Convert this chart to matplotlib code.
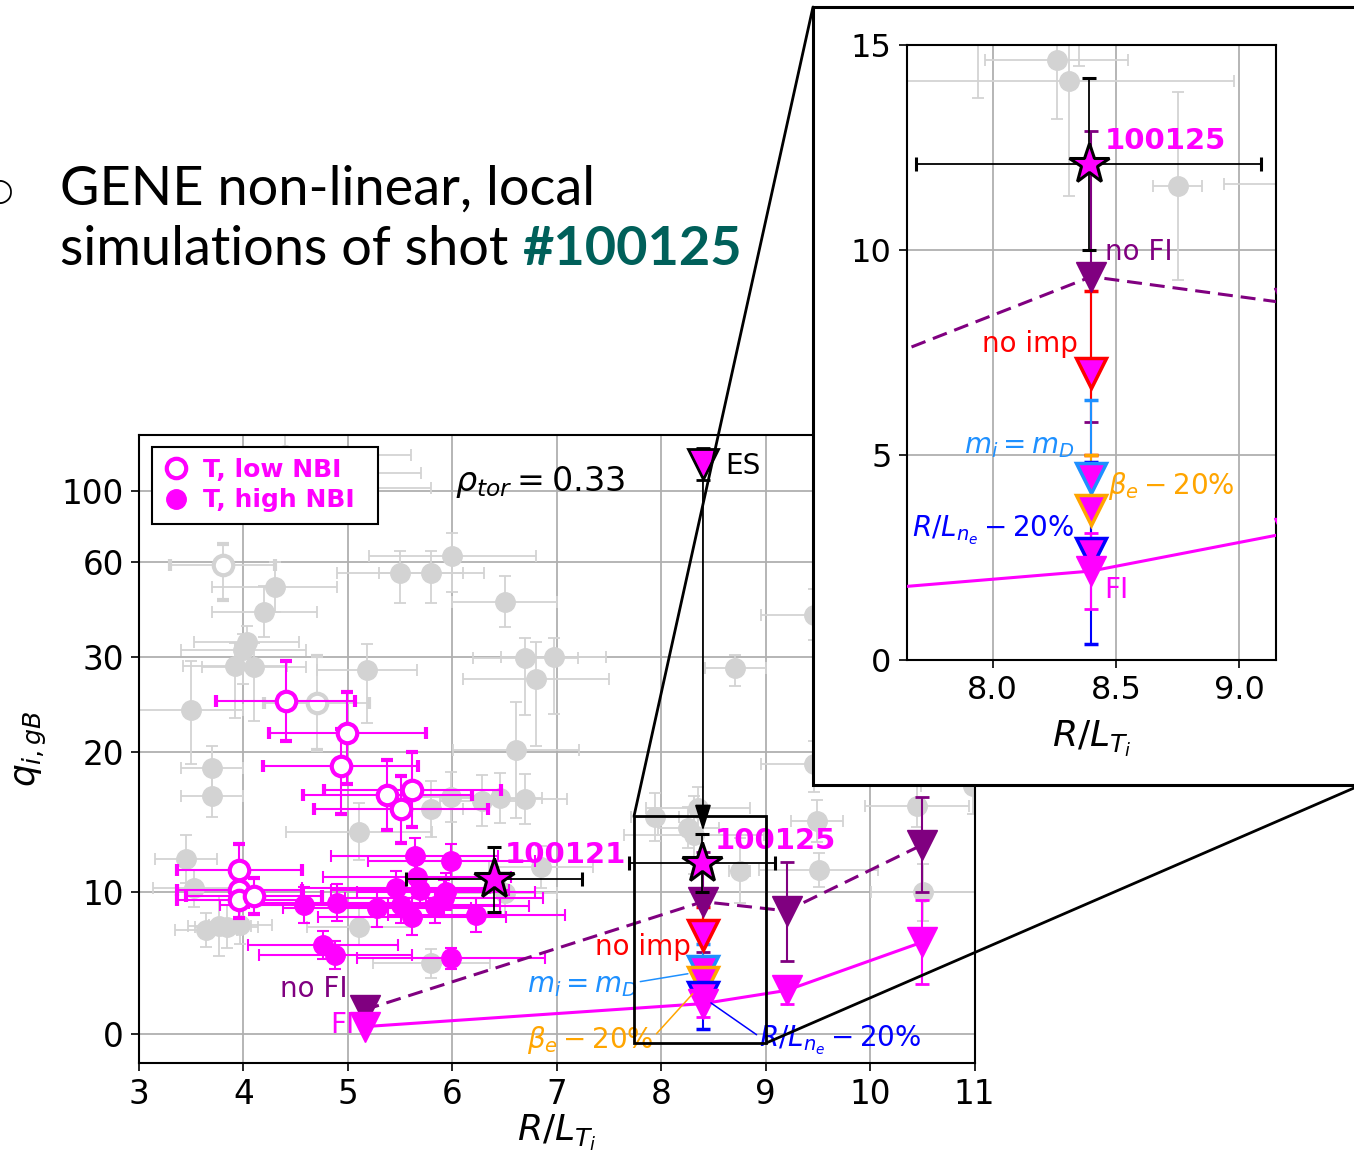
import numpy as np
import matplotlib
matplotlib.use("Agg")
import matplotlib.pyplot as plt
from matplotlib.lines import Line2D
from matplotlib.patches import Rectangle, ConnectionPatch

# ---------------------------------------------------------------
# Database of other discharges (grey)
grey_x = [4.30, 4.20, 5.50, 5.80, 6.00, 6.50, 4.03, 3.92, 4.10, 4.00, 3.50, 5.18,
          6.70, 6.97, 6.80, 6.61, 3.70, 3.70, 5.99, 6.28, 6.46, 6.70, 5.80, 5.11,
          8.71, 9.46, 9.46, 7.94, 8.26, 8.31, 8.35, 8.75, 9.49, 9.51, 10.45, 10.51,
          10.99, 3.45, 3.53, 3.64, 3.77, 3.84, 3.97, 5.11, 5.80, 6.50, 6.85,
          4.40, 4.60, 4.90]
grey_q = [52.2, 44.3, 56.6, 56.6, 63.4, 47.5, 34.8, 29.0, 28.9, 32.2, 24.4, 28.6,
          29.9, 30.0, 27.7, 20.3, 18.9, 16.9, 16.8, 16.56, 16.75, 16.68, 15.93, 14.35,
          28.8, 43.3, 19.2, 15.4, 14.63, 14.12, 16.0, 11.56, 15.1, 11.6, 16.16, 10.0,
          17.6, 12.4, 10.3, 7.36, 7.64, 7.6, 7.7, 7.6, 5.0, 9.94, 11.8,
          120, 110, 101.7]
grey_xerr = [0.6, 0.5, 0.6, 0.5, 0.8, 0.5, 0.5, 0.5, 0.5, 0.6, 0.5, 0.48,
             0.5, 0.5, 0.7, 0.6, 0.3, 0.3, 0.4, 0.4, 0.4, 0.4, 0.3, 0.7,
             0.29, 0.5, 0.5, 0.23, 0.29, 0.67, 0.5, 0.1, 0.25, 0.57, 0.5, 0.5,
             0.5, 0.3, 0.4, 0.3, 0.3, 0.3, 0.3, 0.5, 0.56, 0.5, 0.5,
             1.2, 1.1, 0.9]
grey_qerr = [8, 8, 9.5, 9.5, 12.8, 8, 5, 5.4, 5.6, 5, 5.2, 5.5,
             6, 6, 7, 5, 1.8, 1.5, 1.8, 1.8, 1.8, 1.8, 2, 2,
             1.8, 8, 2, 1.7, 1.44, 2.8, 1.5, 2.3, 1.5, 1.2, 1.5, 2,
             2, 1.7, 1.3, 1.2, 2.1, 1.5, 1.3, 1.3, 1.0, 1.5, 1.5,
             20, 15, 10]
grey_open_x = [3.80, 4.70]
grey_open_q = [59.0, 25.2]
grey_open_xerr = [0.5, 0.5]
grey_open_qerr = [11.0, 5.0]

# T discharges, low NBI power (open) and high NBI power (filled)
low_x = [4.405, 4.995, 4.93, 5.378, 5.618, 5.51, 3.96, 3.96, 3.96, 4.10]
low_q = [25.4, 22.06, 19.03, 16.99, 17.34, 15.93, 11.63, 10.18, 9.47, 9.75]
low_xerr = [0.665, 0.75, 0.74, 0.81, 0.85, 0.83, 0.6, 0.6, 0.6, 0.65]
low_qerr = [4.2, 4.3, 3.4, 2.5, 2.7, 2.4, 1.8, 1.3, 1.3, 1.3]

high_x = [4.58, 4.90, 5.28, 5.46, 5.64, 5.66, 5.69, 5.51, 5.61, 5.83, 5.94, 5.99,
          5.92, 6.23, 4.76, 4.88, 5.99]
high_q = [9.12, 9.28, 8.89, 10.3, 12.57, 11.1, 10.18, 9.12, 8.3, 9.05, 10.06, 12.24,
          9.59, 8.42, 6.30, 5.60, 5.37]
high_xerr = [0.8, 0.85, 0.9, 0.9, 0.8, 0.9, 0.85, 0.95, 0.9, 0.9, 0.85, 0.8,
             0.95, 0.85, 0.72, 0.73, 0.9]
high_qerr = [1.3, 1.3, 1.3, 1.2, 1.3, 1.4, 1.2, 1.3, 1.3, 1.2, 1.3, 1.2,
             1.3, 1.2, 1.0, 1.0, 0.75]

# Experimental reference shots (stars)
star_names = ['100121', '100125']
star_x = [6.40, 8.39]
star_q = [10.93, 12.1]
star_xerr = [0.84, 0.70]
star_qerr = [2.3, 2.1]

# GENE gradient scan, with and without fast ions
sim_x = [5.16, 8.4, 9.2, 10.5]
fi_q = [0.55, 2.17, 3.1, 6.5]
fi_err = [0.0, 0.92, 0.95, 2.95]
nofi_q = [1.73, 9.35, 8.7, 13.4]
nofi_err = [0.0, 3.55, 3.5, 3.4]

# Sensitivity runs at the nominal gradient of #100125
sens_x = 8.4
sens_q = [7.0, 4.45, 3.66, 2.61]
sens_err = [2.0, 1.9, 1.34, 2.22]
sens_colors = ['red', 'dodgerblue', 'orange', 'blue']
sens_labels = ['no imp', r'$m_i = m_D$', r'$\beta_e - 20\%$', r'$R/L_{n_e} - 20\%$']

# Electrostatic run
es_q = 115.0
es_err = 9.0

# ---------------------------------------------------------------
MAGENTA = '#ff00ff'
PURPLE = '#800080'
GREY = '#d3d3d3'
TEAL = '#00605a'

W, H = 1354, 1160
fig = plt.figure(figsize=(W / 100, H / 100), dpi=100)


def fx(px):
    return px / W


def fy(py):
    return 1 - py / H


# flux axis: linear up to 20, compressed above
q_knots = np.array([-1000.0, 0, 10, 20, 30, 60, 100, 2000])
s_knots = np.array([-1000.0, 0, 10, 19.86, 26.58, 33.27, 38.27, 38.27 + 1900 * 0.125])


def q_fwd(v):
    return np.interp(np.asarray(v, float), q_knots, s_knots)


def q_inv(s):
    return np.interp(np.asarray(s, float), s_knots, q_knots)


def draw_data(a):
    a.errorbar(grey_x, grey_q, xerr=grey_xerr, yerr=grey_qerr, fmt='o', ms=14,
               color=GREY, ecolor=GREY, elinewidth=1.3, capsize=4.5, capthick=1.3,
               zorder=2)
    a.errorbar(grey_open_x, grey_open_q, xerr=grey_open_xerr, yerr=grey_open_qerr,
               fmt='o', ms=14, mfc='white', mec=GREY, mew=3, ecolor=GREY,
               elinewidth=1.3, capsize=4.5, capthick=1.3, zorder=2)
    a.errorbar(low_x, low_q, xerr=low_xerr, yerr=low_qerr, fmt='o', ms=14,
               mfc='white', mec=MAGENTA, mew=3, ecolor=MAGENTA, elinewidth=1.5,
               capsize=4.5, capthick=1.5, zorder=3)
    a.errorbar(high_x, high_q, xerr=high_xerr, yerr=high_qerr, fmt='o', ms=14,
               color=MAGENTA, ecolor=MAGENTA, elinewidth=1.5, capsize=4.5,
               capthick=1.5, zorder=3)

    a.plot(sim_x, nofi_q, color=PURPLE, lw=2.2, dashes=(4.9, 2.6), zorder=4)
    a.plot(sim_x, fi_q, color=MAGENTA, lw=2.2, zorder=4)
    a.errorbar(sim_x, nofi_q, yerr=nofi_err, fmt='v', ms=21, color=PURPLE,
               ecolor=PURPLE, elinewidth=1.5, capsize=5, capthick=2, zorder=5)
    for q, e, c in zip(sens_q, sens_err, sens_colors):
        a.errorbar([sens_x], [q], yerr=[e], fmt='v', ms=21, mfc=MAGENTA, mec=c,
                   mew=2.5, ecolor=c, elinewidth=1.5, capsize=5, capthick=2,
                   zorder=5)
    a.errorbar(sim_x, fi_q, yerr=fi_err, fmt='v', ms=21, color=MAGENTA,
               ecolor=MAGENTA, elinewidth=1.5, capsize=5, capthick=2, zorder=5)
    a.errorbar([sens_x], [es_q], yerr=[es_err], fmt='v', ms=21, mfc=MAGENTA,
               mec='k', mew=2, ecolor='k', elinewidth=1.5, capsize=5, capthick=2,
               zorder=5)
    a.errorbar(star_x, star_q, xerr=star_xerr, yerr=star_qerr, fmt='*', ms=30,
               mfc=MAGENTA, mec='k', mew=2.2, ecolor='k', elinewidth=1.3,
               capsize=5, capthick=1.5, zorder=7)


# ---------------- main panel ----------------
ax = fig.add_axes([fx(139), fy(1062.7), (974.5 - 139) / W, (1062.7 - 435) / H])
ax.set_yscale('function', functions=(q_fwd, q_inv))
draw_data(ax)
ax.set_xlim(3, 11)
ax.set_ylim(-1.99, 131.5)
ax.set_xticks(range(3, 12))
ax.set_yticks([0, 10, 20, 30, 60, 100])
ax.set_yticklabels(['0', '10', '20', '30', '60', '100'])
ax.minorticks_off()
ax.grid(True, color='#b0b0b0', lw=1.3)
ax.set_axisbelow(True)
ax.tick_params(labelsize=23.5, length=6, width=1.2, pad=5)
for s in ax.spines.values():
    s.set_linewidth(1.5)
ax.set_xlabel(r'$R/L_{T_i}$', fontsize=26)
ax.xaxis.set_label_coords(0.5, -0.08)
ax.set_ylabel(r'$q_{i,gB}$', fontsize=26)
ax.yaxis.set_label_coords(-0.108, 0.5)

ax.text(0.378, 0.925, r'$\rho_{tor} = 0.33$', transform=ax.transAxes,
        fontsize=24, va='center', ha='left')
ax.text(0.7014, 0.9506, 'ES', transform=ax.transAxes, fontsize=20,
        va='center', ha='left')
ax.annotate('', xy=(sens_x, 14.4), xytext=(sens_x, es_q - es_err),
            arrowprops=dict(arrowstyle='-|>,head_length=0.8,head_width=0.25',
                            color='k', lw=1.3, shrinkA=0, shrinkB=0,
                            mutation_scale=20), zorder=6)
ax.text(6.506, 12.64, star_names[0], color=MAGENTA, fontsize=21,
        fontweight='bold', va='center', ha='left', zorder=8)
ax.text(8.517, 13.70, star_names[1], color=MAGENTA, fontsize=21,
        fontweight='bold', va='center', ha='left', zorder=8)
ax.text(4.35, 3.17, 'no FI', color=PURPLE, fontsize=20, va='center', ha='left')
ax.text(4.83, 0.67, 'FI', color=MAGENTA, fontsize=20, va='center', ha='left')
ax.text(7.368, 6.16, sens_labels[0], color='red', fontsize=20, va='center',
        ha='left', zorder=8)
ax.annotate(sens_labels[1], xy=(sens_x, sens_q[1]), xytext=(6.716, 3.49),
            color='dodgerblue', fontsize=20, va='center', ha='left',
            arrowprops=dict(arrowstyle='-', color='dodgerblue', lw=1.1,
                            shrinkA=0, shrinkB=11, relpos=(1, 0.6)), zorder=8)
ax.annotate(sens_labels[2], xy=(sens_x, sens_q[2]), xytext=(6.716, -0.39),
            color='orange', fontsize=20, va='center', ha='left',
            arrowprops=dict(arrowstyle='-', color='orange', lw=1.1,
                            shrinkA=0, shrinkB=11, relpos=(1, 0.6)), zorder=8)
ax.annotate(sens_labels[3], xy=(sens_x, sens_q[3]), xytext=(8.94, -0.39),
            color='blue', fontsize=20, va='center', ha='left',
            arrowprops=dict(arrowstyle='-', color='blue', lw=1.1,
                            shrinkA=0, shrinkB=7, relpos=(0, 0.6)), zorder=8)

leg_handles = [
    Line2D([], [], ls='', marker='o', ms=14, mfc='white', mec=MAGENTA, mew=3),
    Line2D([], [], ls='', marker='o', ms=14, mfc=MAGENTA, mec=MAGENTA),
]
leg = ax.legend(leg_handles, ['T, low NBI', 'T, high NBI'], loc='upper left',
                bbox_to_anchor=(0.0156, 0.5, 0.2705, 0.481), mode='expand',
                borderaxespad=0, fancybox=False,
                framealpha=1, edgecolor='k', labelcolor=MAGENTA,
                prop=dict(size=18, weight='bold'), handlelength=1.0,
                handletextpad=0.6, borderpad=0.45, labelspacing=0.25)
leg.get_frame().set_linewidth(1.5)
leg.set_zorder(10)

# zoom window on the main panel
zx0, zx1, zq0, zq1 = 7.74, 9.006, -0.6, 15.46
ax.add_patch(Rectangle((zx0, zq0), zx1 - zx0, zq1 - zq0, fill=False,
                       ec='k', lw=2, zorder=9))

# ---------------- zoomed panel ----------------
box = Rectangle((fx(813), fy(785)), 1.0, fy(7) - fy(785), transform=fig.transFigure,
                fc='white', ec='k', lw=2.2, zorder=3)
fig.add_artist(box)
for xyA, xyB in [((zx0, zq1), (fx(813), fy(7))), ((zx1, zq0), (1.0, fy(788)))]:
    con = ConnectionPatch(xyA=xyA, coordsA=ax.transData, xyB=xyB,
                          coordsB=fig.transFigure, color='k', lw=2)
    con.set_zorder(2)
    fig.add_artist(con)

axi = fig.add_axes([fx(906.7), fy(660), (1276 - 906.7) / W, (660 - 45) / H])
axi.set_zorder(4)
draw_data(axi)
axi.set_xlim(7.651, 9.149)
axi.set_ylim(0, 15)
axi.set_xticks([8.0, 8.5, 9.0])
axi.set_yticks([0, 5, 10, 15])
axi.grid(True, color='#b0b0b0', lw=1.3)
axi.set_axisbelow(True)
axi.tick_params(labelsize=23, length=6, width=1.2, pad=5)
for s in axi.spines.values():
    s.set_linewidth(1.5)
axi.set_xlabel(r'$R/L_{T_i}$', fontsize=26)
axi.xaxis.set_label_coords(0.5, -0.095)

axi.text(8.455, 12.66, star_names[1], color=MAGENTA, fontsize=21,
         fontweight='bold', va='center', ha='left', zorder=8)
axi.text(8.455, 9.95, 'no FI', color=PURPLE, fontsize=20, va='center', ha='left',
         zorder=8)
axi.text(8.345, 7.71, sens_labels[0], color='red', fontsize=20, va='center',
         ha='right', zorder=8)
axi.text(8.333, 5.22, sens_labels[1], color='dodgerblue', fontsize=20,
         va='center', ha='right', zorder=8)
axi.text(8.467, 4.24, sens_labels[2], color='orange', fontsize=20, va='center',
         ha='left', zorder=8)
axi.text(7.672, 3.17, sens_labels[3], color='blue', fontsize=20, va='center',
         ha='left', zorder=8)
axi.text(8.451, 1.71, 'FI', color=MAGENTA, fontsize=20, va='center', ha='left',
         zorder=8)

# ---------------- slide text ----------------
TITLE_FONT = 'Lato'
TITLE_SIZE = 39
fig.text(0.0, fy(192), '\u25cb', fontsize=22, ha='center', va='center',
         family='DejaVu Sans')
fig.text(fx(60), fy(205), 'GENE non-linear, local', fontsize=TITLE_SIZE,
         family=TITLE_FONT, va='baseline', ha='left')
t2 = fig.text(fx(60), fy(265), 'simulations of shot', fontsize=TITLE_SIZE,
              family=TITLE_FONT, va='baseline', ha='left')
fig.canvas.draw()
bb = t2.get_window_extent()
space = 0.26 * TITLE_SIZE * 100 / 72
fig.text((bb.x1 + space) / W, fy(265), '#100125', fontsize=TITLE_SIZE,
         family=TITLE_FONT, fontweight='bold', color=TEAL, va='baseline',
         ha='left')

fig.savefig('out.png', dpi=100)
